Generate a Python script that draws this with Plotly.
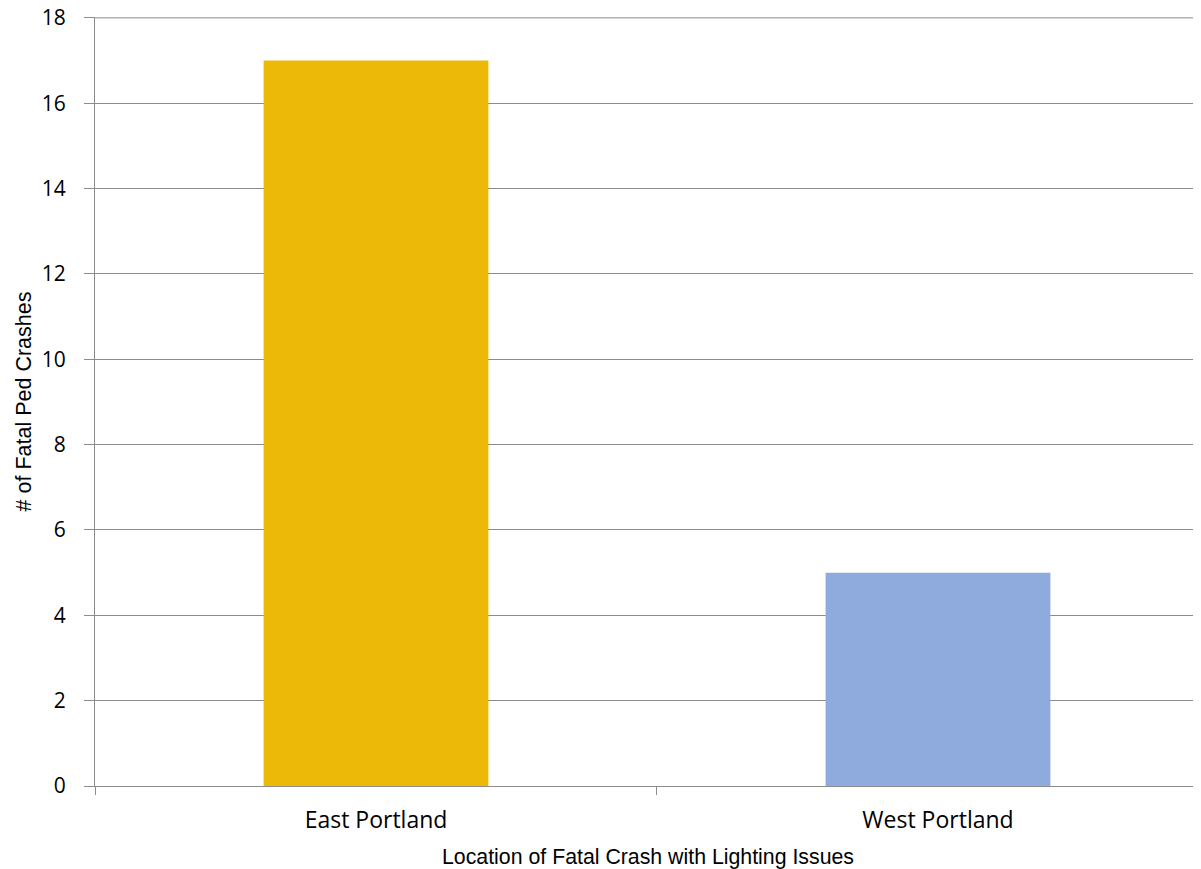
import plotly.graph_objects as go

categories = ["East Portland", "West Portland"]
values = [17, 5]
colors = ["#EDB908", "#8FAADC"]
y_ticks = [0, 2, 4, 6, 8, 10, 12, 14, 16, 18]

fig = go.Figure(
    go.Bar(x=categories, y=values, marker=dict(color=colors, line=dict(width=0)), width=0.4)
)

grid = "#8C8C8C"
fig.update_layout(
    width=1193, height=861,
    margin=dict(l=87, r=0, t=9, b=83),
    paper_bgcolor="white", plot_bgcolor="white",
    showlegend=False,
)
# top gridline at the maximum tick value
fig.add_shape(type="line", xref="paper", yref="y", x0=0, x1=1,
              y0=y_ticks[-1], y1=y_ticks[-1],
              line=dict(color=grid, width=1), layer="below")
fig.update_xaxes(
    range=[-0.5, 1.468], automargin=False,
    showline=True, linecolor=grid, linewidth=1,
    ticks="outside", tickson="boundaries", ticklen=8, tickcolor=grid,
    ticklabelstandoff=13,
    tickfont=dict(family="Open Sans", size=23, color="#000"),
    title=dict(text="Location of Fatal Crash with Lighting Issues",
               font=dict(family="Liberation Sans", size=21.3, color="#000"), standoff=28),
    showgrid=False,
)
fig.update_yaxes(
    range=[0, 18.02], tickvals=y_ticks, automargin=False,
    ticklabeloverflow="allow",
    showline=True, linecolor=grid, linewidth=1,
    ticks="outside", ticklen=10, tickcolor=grid,
    ticklabelstandoff=14,
    showgrid=True, gridcolor=grid, gridwidth=1,
    zeroline=False,
    tickfont=dict(family="Open Sans", size=21, color="#000"),
    title=dict(text="# of Fatal Ped Crashes",
               font=dict(family="Liberation Sans", size=21.5, color="#000"), standoff=4),
)
fig.write_html("out.html")
